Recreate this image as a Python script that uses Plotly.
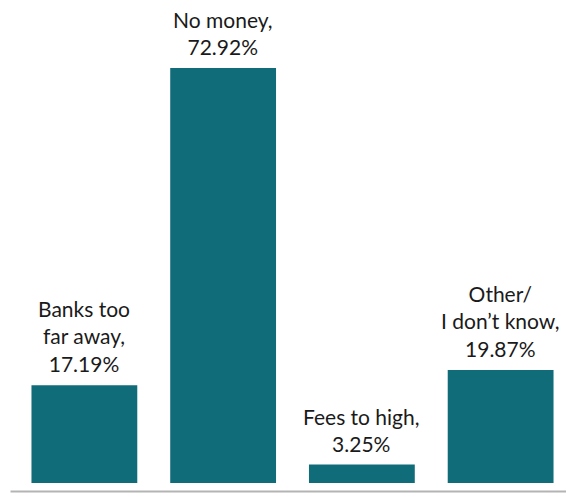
import plotly.graph_objects as go

categories = ["Banks too far away", "No money", "Fees to high", "Other/I don't know"]
values = [17.19, 72.92, 3.25, 19.87]
label_lines = [
    ["Banks too", "far away,"],
    ["No money,"],
    ["Fees to high,"],
    ["Other/", "I don\u2019t know,"],
]

bar_color = "#106c78"

fig = go.Figure(
    go.Bar(
        x=categories,
        y=values,
        marker=dict(color=bar_color, line=dict(width=0)),
        hoverinfo="skip",
    )
)

for cat, val, lines in zip(categories, values, label_lines):
    txt = "<br>".join(lines + [f"{val:.2f}%"])
    fig.add_annotation(
        x=cat, y=val, xref="x", yref="y",
        text=txt, showarrow=False,
        yanchor="bottom", xanchor="center",
        yshift=8,
        borderpad=0,
        font=dict(family="Lato", size=21, color="#1a1a1a"),
        align="center",
    )

# page body has an 8px margin, so the figure is drawn at (8, 8)
W, H = 566, 485
ml, mr, mt, mb = 6.5, 3.5, 20, 10
plot_w = W - ml - mr
plot_h = H - mt - mb
px_per_unit = 415 / 72.92
ymax = plot_h / px_per_unit

# baseline gray line
fig.add_shape(
    type="line", xref="paper", yref="paper",
    x0=(2 - ml) / plot_w, x1=(W - ml) / plot_w,
    y0=-8.5 / plot_h, y1=-8.5 / plot_h,
    line=dict(color="#b4b4b4", width=2),
)

fig.update_layout(
    width=W, height=H,
    margin=dict(l=ml, r=mr, t=mt, b=mb, pad=0),
    paper_bgcolor="white", plot_bgcolor="white",
    bargap=33 / 139,
    showlegend=False,
    xaxis=dict(visible=False, range=[-0.5, 3.5]),
    yaxis=dict(visible=False, range=[0, ymax]),
)

fig.write_html("out.html")
